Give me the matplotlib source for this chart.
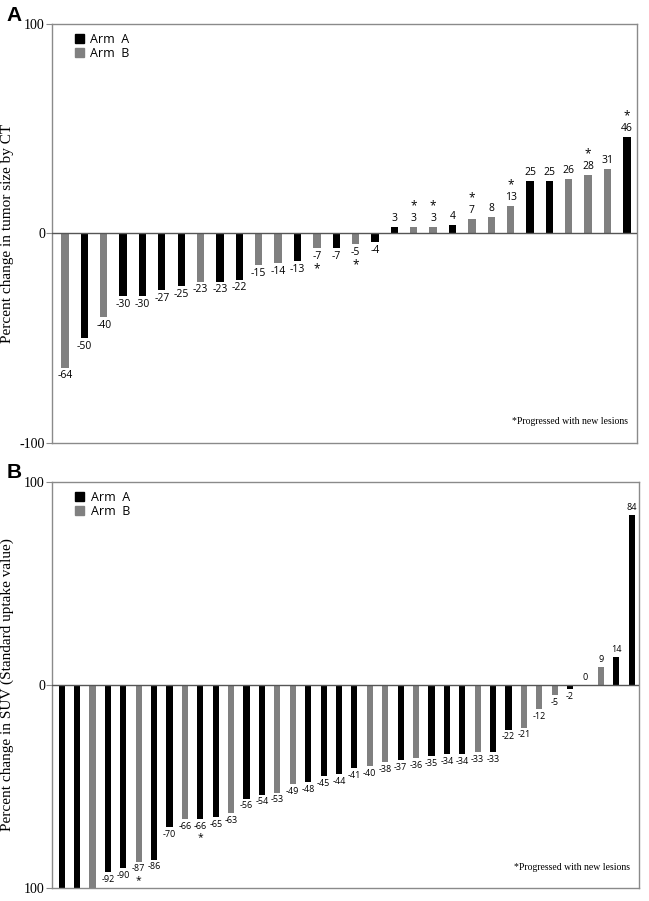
import matplotlib
matplotlib.use('Agg')
import matplotlib.pyplot as plt
from matplotlib.patches import Patch

plt.rcParams['font.serif'] = ['Liberation Serif', 'DejaVu Serif']
plt.rcParams['font.family'] = ['Open Sans', 'DejaVu Sans']

# panel A: tumor size by CT
ct_vals = [-64, -50, -40, -30, -30, -27, -25, -23, -23, -22, -15, -14, -13, -7, -7,
           -5, -4, 3, 3, 3, 4, 7, 8, 13, 25, 25, 26, 28, 31, 46]
ct_arm = ['B', 'A', 'B', 'A', 'A', 'A', 'A', 'B', 'A', 'A', 'B', 'B', 'A', 'B', 'A',
          'B', 'A', 'A', 'B', 'B', 'A', 'B', 'B', 'B', 'A', 'A', 'B', 'B', 'B', 'A']
ct_star = [0, 0, 0, 0, 0, 0, 0, 0, 0, 0, 0, 0, 0, 1, 0,
           1, 0, 0, 1, 1, 0, 1, 0, 1, 0, 0, 0, 1, 0, 1]

# panel B: SUV (first three bars run off the bottom, no labels)
suv_vals = [-100, -100, -100, -92, -90, -87, -86, -70, -66, -66, -65, -63, -56, -54,
            -53, -49, -48, -45, -44, -41, -40, -38, -37, -36, -35, -34, -34, -33,
            -33, -22, -21, -12, -5, -2, 0, 9, 14, 84]
suv_arm = ['A', 'A', 'B', 'A', 'A', 'B', 'A', 'A', 'B', 'A', 'A', 'B', 'A', 'A',
           'B', 'B', 'A', 'A', 'A', 'A', 'B', 'B', 'A', 'B', 'A', 'A', 'A', 'B',
           'A', 'A', 'B', 'B', 'B', 'A', 'B', 'B', 'A', 'A']
suv_star = [0] * 38
suv_star[5] = 1
suv_star[9] = 1
suv_label = [False, False, False] + [True] * 35

colors = {'A': '#000000', 'B': '#808080'}
frame_col = '#8a8a8a'


def panel(ax, vals, arms, stars, labels, width, fs, ylab, yticklabels, xlim):
    x = range(len(vals))
    ax.bar(x, vals, width=width, color=[colors[a] for a in arms], zorder=2)
    ax.axhline(0, color='#555555', lw=1.0, zorder=3)
    for i, v in enumerate(vals):
        if not labels[i]:
            continue
        if v >= 0:
            ax.annotate(str(v), (i, v), xytext=(0, 2), textcoords='offset points',
                        ha='center', va='bottom', fontsize=fs)
            if stars[i]:
                ax.annotate('*', (i, v), xytext=(0, 2 + fs + 1), textcoords='offset points',
                            ha='center', va='bottom', fontsize=fs + 1)
        else:
            ax.annotate(str(v), (i, v), xytext=(0, -2), textcoords='offset points',
                        ha='center', va='top', fontsize=fs)
            if stars[i]:
                ax.annotate('*', (i, v), xytext=(0, -2 - fs - 1), textcoords='offset points',
                            ha='center', va='top', fontsize=fs + 1)
    ax.set_ylim(-100, 100)
    ax.set_xlim(*xlim)
    ax.set_yticks([-100, 0, 100])
    ax.set_yticklabels(yticklabels, family='serif', fontsize=10)
    ax.set_xticks([])
    ax.tick_params(axis='y', length=4, color=frame_col, pad=1)
    for s in ax.spines.values():
        s.set_color(frame_col)
        s.set_linewidth(1.0)
    ax.set_ylabel(ylab, family='serif', fontsize=11)
    ax.yaxis.set_label_coords(-0.064, 0.5)
    handles = [Patch(color=colors['A'], label='Arm  A'), Patch(color=colors['B'], label='Arm  B')]
    ax.legend(handles=handles, loc='upper left', bbox_to_anchor=(0.02, 1.005), frameon=False,
              fontsize=9, handlelength=0.75, handleheight=0.75, handletextpad=0.5,
              labelspacing=0.05)
    ax.text(0.985, 0.04, '*Progressed with new lesions', transform=ax.transAxes,
            ha='right', va='bottom', family='serif', fontsize=7)


fig = plt.figure(figsize=(6.49, 9.01), dpi=100)
ax1 = fig.add_axes([0.080, 0.5083, 0.9015, 0.4651])
ax2 = fig.add_axes([0.080, 0.0144, 0.9046, 0.4506])

panel(ax1, ct_vals, ct_arm, ct_star, [True] * len(ct_vals), 0.38, 7.5,
      'Percent change in tumor size by CT', ['-100', '0', '100'], (-0.67, 29.52))
panel(ax2, suv_vals, suv_arm, suv_star, suv_label, 0.4, 6.5,
      'Percent change in SUV (Standard uptake value)', ['100', '0', '100'], (-0.63, 37.47))

fig.text(0.010, 0.983, 'A', fontsize=15, fontweight='bold', family='Liberation Sans',
         va='center', ha='left')
fig.text(0.010, 0.476, 'B', fontsize=15, fontweight='bold', family='Liberation Sans',
         va='center', ha='left')

fig.savefig('out.png', dpi=100)
